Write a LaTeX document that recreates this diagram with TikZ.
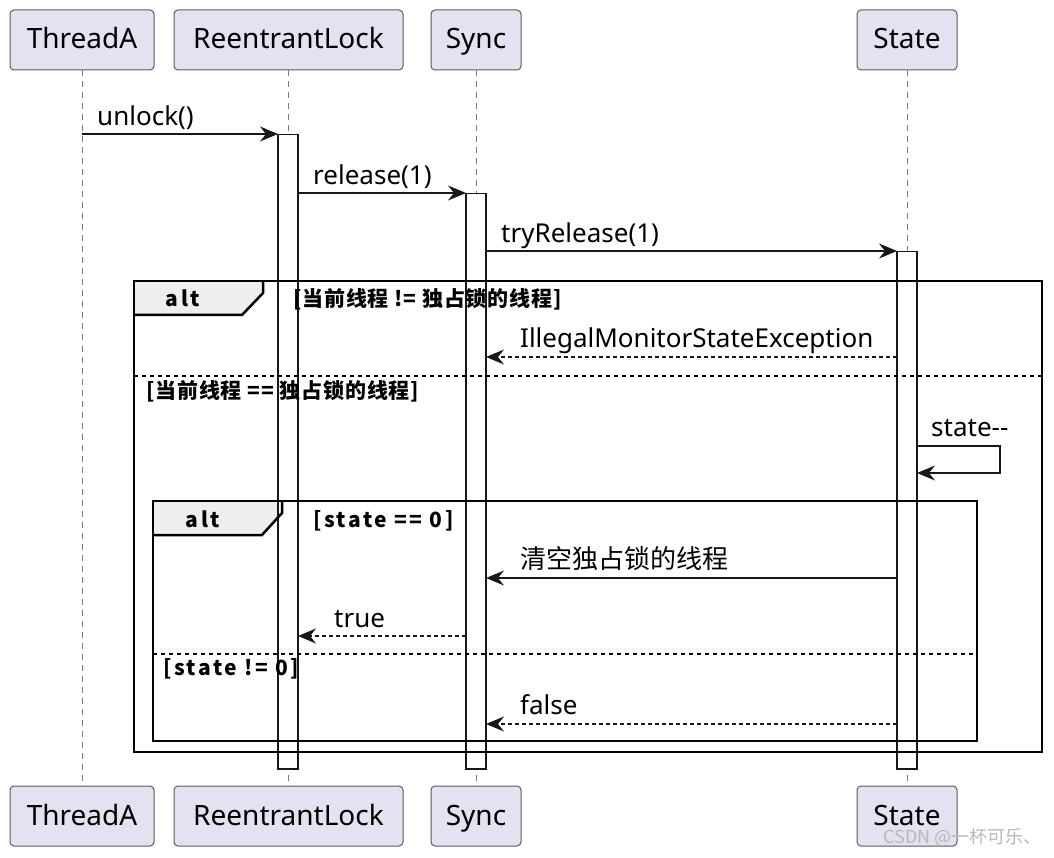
\documentclass[tikz,border=0pt]{standalone}
\usepackage{fontspec}
\setmainfont{Noto Sans}
\newfontfamily\cjk{Noto Sans CJK SC}
\usetikzlibrary{arrows.meta}
\definecolor{partfill}{HTML}{E2E2F0}
\definecolor{partborder}{HTML}{5A5A5A}
\definecolor{linecol}{HTML}{181818}
\definecolor{lifecol}{HTML}{7A7A7A}
\definecolor{tabfill}{HTML}{EEEEEE}
\definecolor{wmcol}{HTML}{B8B8B8}
\begin{document}
\begin{tikzpicture}[x=1pt,y=-1pt,
  part/.style={draw=partborder, fill=partfill, rounded corners=4pt, line width=1pt,
    font=\fontsize{28}{32}\selectfont, inner sep=0pt, minimum height=60pt,
    text height=23pt, text depth=5pt},
  act/.style={draw=linecol, fill=white, line width=1.5pt, inner sep=0pt, minimum width=20pt, anchor=north},
  life/.style={draw=lifecol, line width=1pt, dash pattern=on 6pt off 5pt},
  msg/.style={draw=linecol, line width=1.6pt, -{Stealth[length=18pt,width=15pt,inset=6pt]}},
  ret/.style={msg, dash pattern=on 4pt off 3pt},
  lbl/.style={anchor=base west, font=\fontsize{26}{30}\selectfont, inner sep=0pt},
  guard/.style={anchor=base west, font=\cjk\bfseries\fontsize{21}{24}\selectfont, inner sep=0pt},
  frameline/.style={draw=black, line width=2.5pt},
  sepline/.style={draw=black, line width=1.5pt, dash pattern=on 4pt off 4pt},
]
\useasboundingbox (0,0) rectangle (1054,858);

% participants
\node[part, minimum width=144pt] (tA)  at (82,40)  {ThreadA};
\node[part, minimum width=229pt] (rl)  at (288.5,40) {ReentrantLock};
\node[part, minimum width=90pt]  (sy)  at (476,40) {Sync};
\node[part, minimum width=100pt] (st)  at (907,40) {State};
\node[part, minimum width=144pt] (tAb) at (82,816)  {ThreadA};
\node[part, minimum width=229pt] (rlb) at (288.5,816) {ReentrantLock};
\node[part, minimum width=90pt]  (syb) at (476,816) {Sync};
\node[part, minimum width=100pt] (stb) at (907,816) {State};

% lifelines
\draw[life] (tA.south) -- (tAb.north);
\draw[life] (rl.south) -- (rlb.north);
\draw[life] (sy.south) -- (syb.north);
\draw[life] (st.south) -- (stb.north);

% tab fills (under activations)
\fill[tabfill] (134,281) -- (263,281) -- (263,293) -- (242,315) -- (134,315) -- cycle;
\fill[tabfill] (153,501) -- (282,501) -- (282,513) -- (262,535) -- (153,535) -- cycle;

% activations
\node[act, minimum height=634pt] (aR) at (288,134) {};
\node[act, minimum height=575pt] (aS) at (476,193) {};
\node[act, minimum height=517pt] (aT) at (907,251) {};

% frames
\draw[frameline] (134,281) rectangle (1042,752);
\draw[frameline, line join=miter] (263,281) -- (263,293) -- (242,315) -- (134,315);
\draw[sepline] (134,376) -- (1042,376);
\draw[frameline] (153,501) rectangle (977,741);
\draw[frameline, line join=miter] (282,501) -- (282,513) -- (262,535) -- (153,535);
\draw[sepline] (153,654) -- (977,654);

\node[guard, anchor=base] (alt1) at (183,307) {\addfontfeature{LetterSpace=12}alt};
\node[guard] (g1) at (293,307) {\addfontfeature{LetterSpace=4}[当前线程 != 独占锁的线程]};
\node[guard] (g2) at (146,398) {\addfontfeature{LetterSpace=4}[当前线程 == 独占锁的线程]};
\node[guard, anchor=base] (alt2) at (203,527) {\addfontfeature{LetterSpace=12}alt};
\node[guard] (g3) at (313,527) {\addfontfeature{LetterSpace=12}[state == 0]};
\node[guard] (g4) at (163,675) {\addfontfeature{LetterSpace=12}[state != 0]};

% message endpoints
\coordinate (m1s) at (82,134);   \coordinate (m1e) at (278,134);
\coordinate (m2s) at (298,193);  \coordinate (m2e) at (466,193);
\coordinate (m3s) at (486,251);  \coordinate (m3e) at (897,251);
\coordinate (m4s) at (897,357);  \coordinate (m4e) at (486,357);
\coordinate (m5s) at (917,446);  \coordinate (m5a) at (1000,446);
\coordinate (m5b) at (1000,473); \coordinate (m5e) at (917,473);
\coordinate (m6s) at (897,578);  \coordinate (m6e) at (486,578);
\coordinate (m7s) at (466,636);  \coordinate (m7e) at (298,636);
\coordinate (m8s) at (897,724);  \coordinate (m8e) at (486,724);

\draw[msg] (m1s) -- (m1e);
\node[lbl] (l1) at (97,126) {unlock()};
\draw[msg] (m2s) -- (m2e);
\node[lbl] (l2) at (313,185) {release(1)};
\draw[msg] (m3s) -- (m3e);
\node[lbl] (l3) at (501,243) {tryRelease(1)};
\draw[ret] (m4s) -- (m4e);
\node[lbl] (l4) at (520,348) {IllegalMonitorStateException};
\draw[msg, line width=1.3pt] (m5s) -- (m5a) -- (m5b) -- (m5e);
\node[lbl] (l5) at (931,436) {state-{}-};
\draw[msg] (m6s) -- (m6e);
\node[lbl] (l6) at (520,568) {\cjk 清空独占锁的线程};
\draw[ret] (m7s) -- (m7e);
\node[lbl] (l7) at (334,627) {true};
\draw[ret] (m8s) -- (m8e);
\node[lbl] (l8) at (520,714) {false};

% watermark
\node[anchor=base east, inner sep=0pt, text=wmcol, font=\cjk\fontsize{18}{20}\selectfont] (wm) at (1042,843) {CSDN @一杯可乐、};
\end{tikzpicture}
\end{document}
